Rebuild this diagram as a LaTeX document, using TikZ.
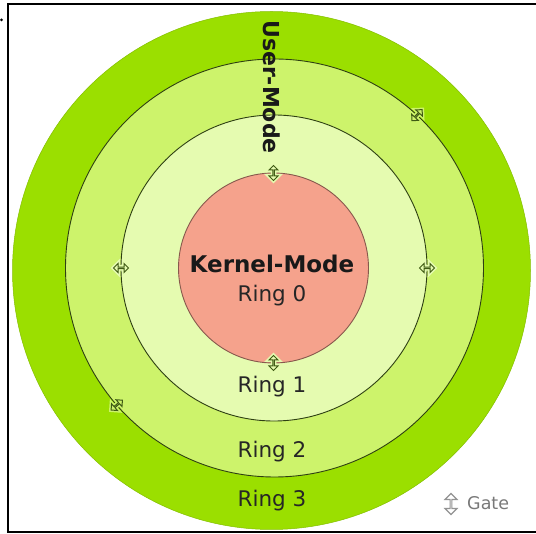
\documentclass[tikz,border=0pt]{standalone}
\usepackage{fontspec}
\setmainfont{DejaVu Sans}
\usetikzlibrary{shapes.arrows}
\definecolor{ringthree}{HTML}{9BDF00}
\definecolor{ringtwo}{HTML}{CDF36B}
\definecolor{ringone}{HTML}{E5FBB0}
\definecolor{kern}{HTML}{F5A28C}
\definecolor{edge}{HTML}{2E3F12}
\definecolor{gatecol}{HTML}{3F5A14}
\begin{document}
\begin{tikzpicture}[x=1pt,y=-1pt,
  ring/.style={circle, inner sep=0pt, outer sep=0pt, draw=edge, line width=0.9pt},
  gate/.style={double arrow, draw=gatecol, line width=1pt, inner sep=0pt,
    minimum width=9pt, double arrow head extend=2.5pt, minimum height=15pt,
    preaction={draw=#1, line width=4pt}, fill=#1},
  ringlabel/.style={font=\fontsize{21.5}{24}\selectfont, text=black!85, anchor=base, inner sep=0pt},
  boldlabel/.style={font=\bfseries\fontsize{22}{24}\selectfont, text=black!90, inner sep=0pt},
]
\useasboundingbox (0,0) rectangle (536,534);
% rings
\node[ring, draw=ringthree!85!black, line width=0.5pt, fill=ringthree, minimum size=518pt] (r3) at (271.5,270.5) {};
\node[ring, fill=ringtwo, minimum size=418pt] (r2) at (274.5,268) {};
\node[ring, fill=ringone, minimum size=306pt] (r1) at (274,268) {};
\node[ring, draw=kern!55!black, fill=kern, minimum size=190pt] (r0) at (273.5,268) {};
% gates
\node[gate=ringone, rotate=90] (g0t) at (r0.north) {};
\node[gate=ringone, rotate=90] (g0b) at (r0.south) {};
\node[gate=ringone] (g1w) at (r1.west) {};
\node[gate=ringone] (g1e) at (r1.east) {};
\node[gate=ringtwo, rotate=47] (g2ne) at (r2.47) {};
\node[gate=ringtwo, rotate=41] (g2sw) at (r2.221) {};
% texts
\node[boldlabel, font=\bfseries\fontsize{23}{25}\selectfont, anchor=base] (km) at (272,273) {Kernel-Mode};
\node[ringlabel] (l0) at (272,302) {Ring 0};
\node[ringlabel] (l1) at (272,393) {Ring 1};
\node[ringlabel] (l2) at (272,458) {Ring 2};
\node[ringlabel] (l3) at (272,507) {Ring 3};
\node[boldlabel, rotate=-90, anchor=west] (um) at (272,20) {User-Mode};
% legend
\node[double arrow, rotate=90, draw=gray!85, fill=white, line width=1.2pt, inner sep=0pt,
  minimum width=12pt, double arrow head extend=3.5pt, minimum height=21pt] (lg) at (451,504) {};
\node[anchor=base west, inner sep=0pt, text=gray!95!black, font=\fontsize{17.5}{20}\selectfont] (lgt) at (467,510) {Gate};
% frame
\draw[line width=2pt] (536,4) -- (8,4) -- (8,532) -- (536,532);
\fill (1.5,20) circle [radius=1.5pt];
\end{tikzpicture}
\end{document}
